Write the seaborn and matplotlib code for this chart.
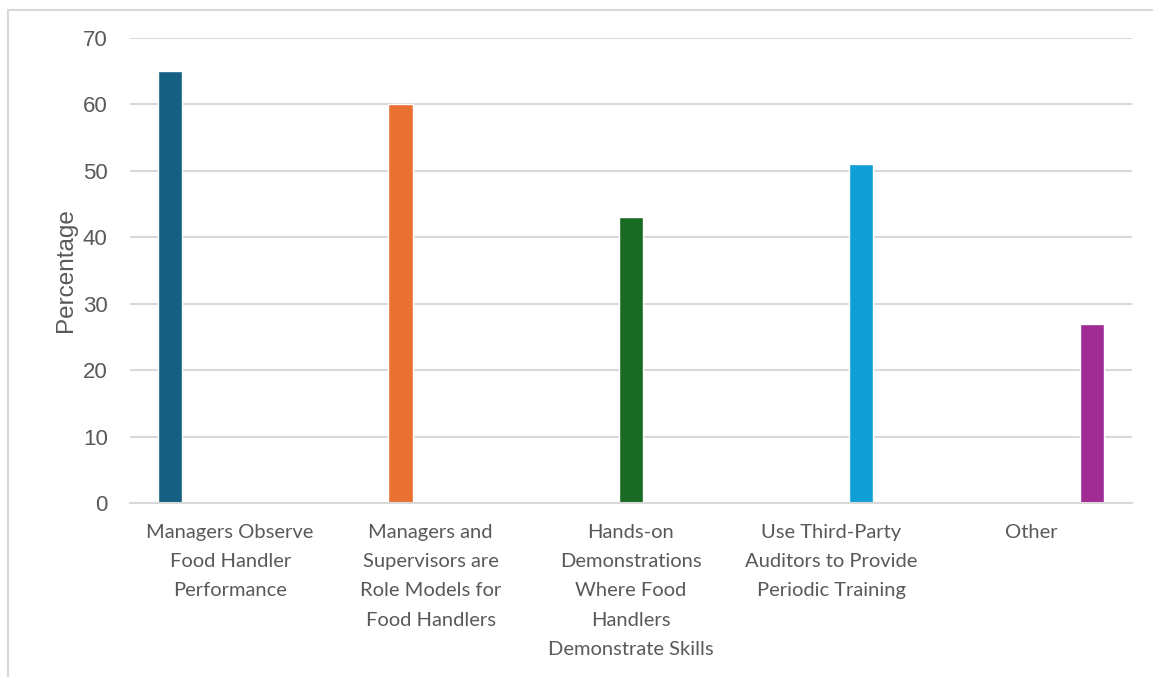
import pandas as pd
import seaborn as sns
import matplotlib.pyplot as plt
from matplotlib.patches import Rectangle

# data
categories = [
    "Managers Observe\nFood Handler\nPerformance",
    "Managers and\nSupervisors are\nRole Models for\nFood Handlers",
    "Hands-on\nDemonstrations\nWhere Food\nHandlers\nDemonstrate Skills",
    "Use Third-Party\nAuditors to Provide\nPeriodic Training",
    "Other",
]
percentages = [65, 60, 43, 51, 27]
colors = ["#156082", "#E97132", "#196B24", "#0F9ED5", "#A02B93"]

df = pd.DataFrame({"Method": categories, "Percentage": percentages})

sns.set_theme(style="white")
plt.rcParams["font.family"] = ["Liberation Sans", "DejaVu Sans"]

fig = plt.figure(figsize=(11.53, 6.77), dpi=100)
ax = fig.add_axes([0.1127, 0.257, 0.8691, 0.6869])

sns.barplot(data=df, x="Method", y="Percentage", hue="Method",
            palette=colors, saturation=1, dodge=True, width=0.75, gap=0.2,
            legend=False, ax=ax)

ax.set_ylim(0, 70)
ax.set_yticks(range(0, 71, 10))
ax.set_xlim(-0.5, len(categories) - 0.5)
ax.yaxis.grid(True, color="#D9D9D9", linewidth=1.5)
ax.set_axisbelow(True)
for side in ["left", "right", "top"]:
    ax.spines[side].set_visible(False)
ax.spines["bottom"].set_color("#D9D9D9")
ax.spines["bottom"].set_linewidth(1.5)

ax.tick_params(axis="y", length=0, pad=16, labelsize=16, labelcolor="#595959")
ax.tick_params(axis="x", length=0, pad=15, labelcolor="#595959")
for lab in ax.get_xticklabels():
    lab.set_fontfamily(["Lato", "DejaVu Sans"])
    lab.set_fontsize(14.5)
    lab.set_linespacing(1.88)
    lab.set_verticalalignment("top")

ax.set_xlabel("")
ax.set_ylabel("Percentage", fontsize=17.5, color="#595959", labelpad=4)

# light frame around the chart area, as in the screenshot
fig.patches.append(Rectangle((8 / 1153, -0.1), 1.2, 1 - 10 / 677 + 0.1,
                             transform=fig.transFigure, fill=False,
                             edgecolor="#D9D9D9", linewidth=1.5))

fig.savefig("out.png", dpi=100)
